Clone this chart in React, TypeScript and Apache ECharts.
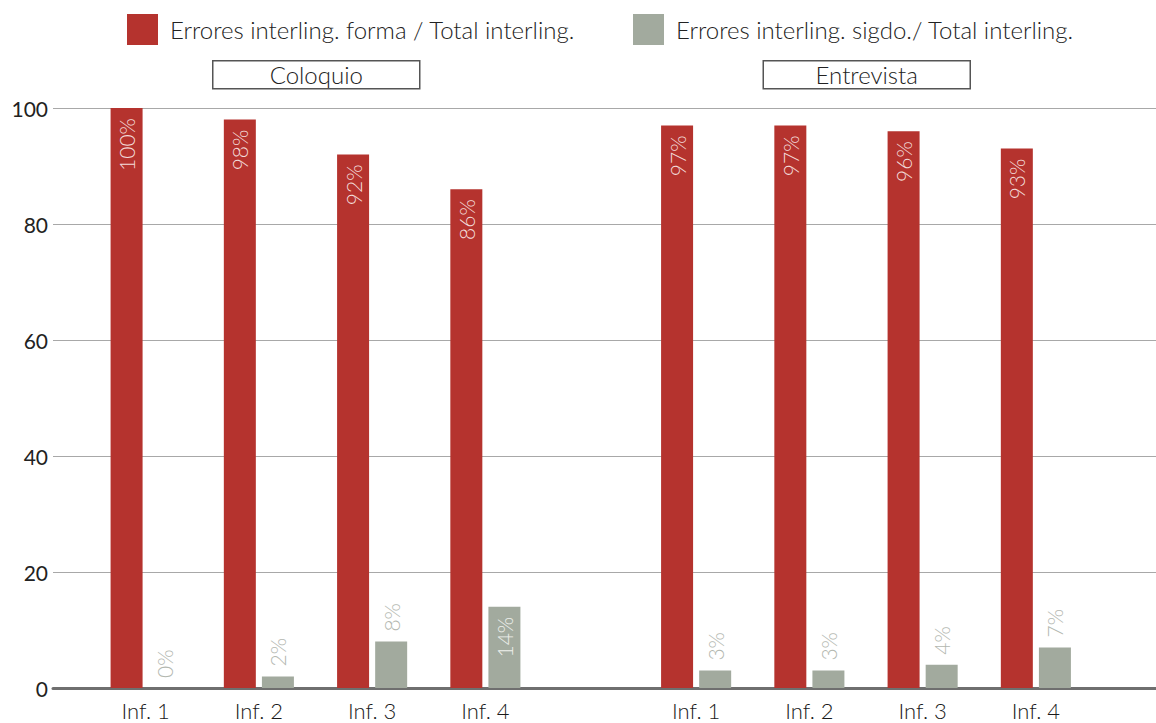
import React, { useEffect, useRef } from "react";
import * as echarts from "echarts";

const categories = ["Inf. 1", "Inf. 2", "Inf. 3", "Inf. 4"];
const groupNames = ["Coloquio", "Entrevista"];
const seriesNames = [
  "Errores interling. forma / Total interling.",
  "Errores interling. sigdo./ Total interling.",
];
const coloquioForma = [100, 98, 92, 86];
const coloquioSigdo = [0, 2, 8, 14];
const entrevistaForma = [97, 97, 96, 93];
const entrevistaSigdo = [3, 3, 4, 7];
const yTicks = [0, 20, 40, 60, 80, 100];

const RED = "#b5332e";
const GRAY = "#a2aa9e";
const FONT = "Lato";

export default function App() {
  const ref = useRef<HTMLDivElement>(null);
  useEffect(() => {
    if (!ref.current) return;
    const chart = echarts.init(ref.current, undefined, { renderer: "svg" });

    const redLabel = {
      show: true,
      position: "insideTop",
      rotate: 90,
      align: "right",
      verticalAlign: "middle",
      distance: 10,
      formatter: "{c}%",
      color: "#f3dcda",
      fontFamily: FONT,
      fontWeight: 300,
      fontSize: 21,
    };
    const grayLabel = {
      show: true,
      position: "top",
      rotate: 90,
      align: "left",
      verticalAlign: "middle",
      distance: 10,
      formatter: "{c}%",
      color: "#b3b7b0",
      fontFamily: FONT,
      fontWeight: 300,
      fontSize: 21,
    };
    const grayData = (arr: number[]) =>
      arr.map((v) =>
        v >= 10
          ? {
              value: v,
              label: {
                position: "insideTop",
                align: "right",
                color: "#eef0ec",
              },
            }
          : v
      );

    const gridTop = 108;
    const gridBottom = 35;
    const groupWidth = 453;
    const groupLefts = [89, 639.5];

    const legendText = {
      fontSize: 24,
      color: "#222",
      fontFamily: FONT,
      fontWeight: 300,
      padding: [0, 0, 0, 7],
    };

    const option: any = {
      animation: false,
      backgroundColor: "#ffffff",
      textStyle: { fontFamily: FONT },
      legend: [
        {
          left: 127,
          top: 14,
          padding: 0,
          itemWidth: 31,
          itemHeight: 31,
          itemGap: 12,
          icon: "rect",
          selectedMode: false,
          data: [seriesNames[0]],
          textStyle: legendText,
        },
        {
          left: 633,
          top: 14,
          padding: 0,
          itemWidth: 31,
          itemHeight: 31,
          itemGap: 12,
          icon: "rect",
          selectedMode: false,
          data: [seriesNames[1]],
          textStyle: legendText,
        },
      ],
      grid: [
        { left: 53, right: 0, top: gridTop, bottom: gridBottom, containLabel: false },
        { left: groupLefts[0], width: groupWidth, top: gridTop, bottom: gridBottom, containLabel: false },
        { left: groupLefts[1], width: groupWidth, top: gridTop, bottom: gridBottom, containLabel: false },
      ],
      xAxis: [
        {
          gridIndex: 0,
          type: "value",
          min: 0,
          max: 1,
          axisLine: { show: true, lineStyle: { color: "#6f6f6f", width: 3 } },
          axisTick: { show: false },
          axisLabel: { show: false },
          splitLine: { show: false },
        },
        ...[1, 2].map((g) => ({
          gridIndex: g,
          type: "category",
          data: categories,
          axisLine: { show: false },
          axisTick: { show: false },
          axisLabel: { color: "#1a1a1a", fontSize: 22, fontWeight: 300, fontFamily: FONT, margin: 11 },
        })),
      ],
      yAxis: [
        {
          gridIndex: 0,
          type: "value",
          min: 0,
          max: 100,
          interval: 20,
          axisLine: { show: false },
          axisTick: { show: false },
          axisLabel: {
            color: "#222",
            fontSize: 21,
            fontWeight: "normal",
            fontFamily: FONT,
            margin: 5,
            formatter: (v: number) => (yTicks.includes(v) ? String(v) : ""),
          },
          splitLine: { lineStyle: { color: "#a8a8a8", width: 1 } },
        },
        ...[1, 2].map((g) => ({
          gridIndex: g,
          type: "value",
          min: 0,
          max: 100,
          show: false,
          splitLine: { show: false },
        })),
      ],
      series: [
        {
          name: seriesNames[0],
          type: "bar",
          xAxisIndex: 1,
          yAxisIndex: 1,
          data: coloquioForma,
          barWidth: 32,
          barGap: "19%",
          itemStyle: { color: RED },
          label: redLabel,
        },
        {
          name: seriesNames[1],
          type: "bar",
          xAxisIndex: 1,
          yAxisIndex: 1,
          data: grayData(coloquioSigdo),
          barWidth: 32,
          barGap: "19%",
          itemStyle: { color: GRAY },
          label: grayLabel,
        },
        {
          name: seriesNames[0],
          type: "bar",
          xAxisIndex: 2,
          yAxisIndex: 2,
          data: entrevistaForma,
          barWidth: 32,
          barGap: "19%",
          itemStyle: { color: RED },
          label: redLabel,
        },
        {
          name: seriesNames[1],
          type: "bar",
          xAxisIndex: 2,
          yAxisIndex: 2,
          data: grayData(entrevistaSigdo),
          barWidth: 32,
          barGap: "19%",
          itemStyle: { color: GRAY },
          label: grayLabel,
        },
      ],
      graphic: groupNames.map((name, i) => ({
        type: "group",
        left: groupLefts[i] + groupWidth / 2 - 103.5,
        top: 60,
        children: [
          {
            type: "rect",
            shape: { x: 0, y: 0, width: 207, height: 28 },
            style: { fill: "#fff", stroke: "#555", lineWidth: 1.5 },
          },
          {
            type: "text",
            x: 103.5,
            y: 14,
            style: {
              text: name,
              fontSize: 24,
              fontWeight: 300,
              fontFamily: FONT,
              fill: "#222",
              align: "center",
              verticalAlign: "middle",
            },
          },
        ],
      })),
    };
    chart.setOption(option);
    return () => chart.dispose();
  }, []);
  return (
    <div
      ref={ref}
      style={{ position: "absolute", left: 0, top: 0, width: 1156, height: 723 }}
    />
  );
}
